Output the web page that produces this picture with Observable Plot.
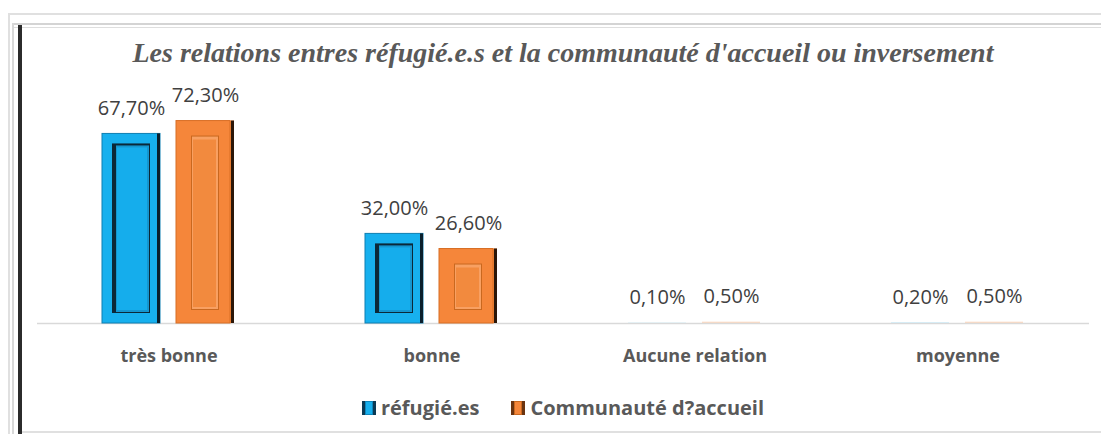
<!DOCTYPE html>
<html>
<head>
<meta charset="utf-8">
<script src="https://cdn.jsdelivr.net/npm/d3@7"></script>
<script src="https://cdn.jsdelivr.net/npm/@observablehq/plot@0.6"></script>
<style>
  html, body { margin: 0; padding: 0; background: #fff; }
  #wrap { position: relative; width: 1101px; height: 434px; overflow: hidden; background: #fff; font-family: "Open Sans", Lato, sans-serif; }
  .ln { position: absolute; }
  #title { position: absolute; left: 37px; width: 1052px; top: 38px; text-align: center;
    font-family: "Liberation Serif", "DejaVu Serif", serif; font-style: italic; font-weight: bold;
    font-size: 28px; line-height: 30px; color: #595959; white-space: nowrap; }
  #chart { position: absolute; left: 0; top: 80px; }
  #legend { position: absolute; left: 37px; width: 1052px; top: 395px; text-align: center;
    font-size: 20px; font-weight: bold; color: #595959; white-space: nowrap; line-height: 26px; }
  .item { display: inline-flex; align-items: center; margin: 0 16px; }
  .sw { display: inline-block; width: 14px; height: 14px; margin-right: 5px; box-sizing: border-box; }
</style>
</head>
<body>
<div id="wrap">
  <div class="ln" style="left:8px;top:13px;width:1093px;height:2px;background:#e0e0e0"></div>
  <div class="ln" style="left:8px;top:13px;width:2px;height:421px;background:#e0e0e0"></div>
  <div class="ln" style="left:12px;top:23px;width:1089px;height:2px;background:#d4d4d4"></div>
  <div class="ln" style="left:12px;top:27px;width:1089px;height:1px;background:#dedede"></div>
  <div class="ln" style="left:12px;top:23px;width:2px;height:411px;background:#d8d8d8"></div>
  <div class="ln" style="left:18px;top:25px;width:4px;height:409px;background:#2b2b2b"></div>
  <div class="ln" style="left:22px;top:431px;width:1079px;height:2px;background:#e0e0e0"></div>
  <div id="title">Les relations entres réfugié.e.s et la communauté d'accueil ou inversement</div>
  <div id="chart"></div>
  <div id="legend"></div>
</div>
<script>
// ---- data ----
const categories = ["très bonne", "bonne", "Aucune relation", "moyenne"];
const series = ["réfugié.es", "Communauté d?accueil"];
const refugies = [67.7, 32.0, 0.1, 0.2];
const communaute = [72.3, 26.6, 0.5, 0.5];

const colors = ["#17B0EE", "#F5863A"];
const data = [];
categories.forEach((c, i) => {
  data.push({category: c, series: series[0], value: refugies[i]});
  data.push({category: c, series: series[1], value: communaute[i]});
});
const fmt = v => v.toFixed(2).replace(".", ",") + "%";

const blue = data.filter(d => d.series === series[0]);
const orange = data.filter(d => d.series === series[1]);
const bigBlue = blue.filter(d => d.value > 10);
const bigOrange = orange.filter(d => d.value > 10);
const small = data.filter(d => d.value <= 10);
const big = data.filter(d => d.value > 10);

const common = {fx: "category", x: "series", y: "value"};

const chart = Plot.plot({
  width: 1101,
  height: 290,
  marginLeft: 37,
  marginRight: 12,
  marginTop: 19,
  marginBottom: 47,
  style: {fontFamily: "'Open Sans', Lato, sans-serif", fontSize: "18px", color: "#595959", background: "transparent"},
  fx: {domain: categories, padding: 0, label: null},
  x: {domain: series, paddingInner: 0.2133, paddingOuter: 0.86, axis: null},
  y: {domain: [0, 80], axis: null},
  color: {domain: series, range: colors},
  marks: [
    Plot.ruleY([0], {stroke: "#d9d9d9", strokeWidth: 1.5}),
    // base bars
    Plot.barY(big, {...common, fill: "series"}),
    Plot.barY(small, {...common, fill: "series", fillOpacity: 0.25}),
    // blue bevel
    Plot.barY(bigBlue, {...common, fillOpacity: 0, stroke: "#0F7FB2", strokeWidth: 1}),
    Plot.barY(bigBlue, {...common, fill: "#0a1f2c", insetLeft: 55}),
    Plot.barY(bigBlue, {...common, fill: "#0b2838", insetLeft: 10, insetRight: 10, insetTop: 10, insetBottom: 10}),
    Plot.barY(bigBlue, {...common, fill: "#1596CF", insetLeft: 14, insetRight: 11, insetTop: 12, insetBottom: 11}),
    Plot.barY(bigBlue, {...common, fill: "#15ADEC", insetLeft: 15, insetRight: 13, insetTop: 14, insetBottom: 13}),
    // orange bevel
    Plot.barY(bigOrange, {...common, fill: "#2b1608", insetLeft: 55}),
    Plot.barY(bigOrange, {...common, insetRight: 4, fillOpacity: 0, stroke: "#D86E24", strokeWidth: 1}),
    Plot.barY(bigOrange, {...common, fill: "#C9681F", insetLeft: 15, insetRight: 15, insetTop: 15, insetBottom: 13}),
    Plot.barY(bigOrange, {...common, fill: "#F8A062", insetLeft: 16, insetRight: 16, insetTop: 16, insetBottom: 14}),
    Plot.barY(bigOrange, {...common, fill: "#F28A3E", insetLeft: 17, insetRight: 18, insetTop: 19, insetBottom: 16}),
    // value labels
    Plot.text(data, {...common, text: d => fmt(d.value), lineAnchor: "bottom", dy: -19, fill: "#404040", fontSize: 20}),
    Plot.axisFx({anchor: "bottom", tickSize: 0, tickPadding: 26, fontWeight: "bold", fontSize: 18, label: null})
  ]
});
document.getElementById("chart").appendChild(chart);

// legend
const leg = document.getElementById("legend");
const swStyles = [
  "background:#17B0EE;border-left:3px solid #0b3a55;border-right:3px solid #0b3a55;box-shadow: inset 0 0 0 1px #0E86BC;",
  "background:#F5863A;border-left:3px solid #6b3410;border-right:3px solid #6b3410;box-shadow: inset 0 0 0 1px #C9681F;"
];
series.forEach((s, i) => {
  const it = document.createElement("span");
  it.className = "item";
  const sw = document.createElement("span");
  sw.className = "sw";
  sw.setAttribute("style", swStyles[i]);
  it.appendChild(sw);
  it.appendChild(document.createTextNode(s));
  leg.appendChild(it);
});
</script>
</body>
</html>
